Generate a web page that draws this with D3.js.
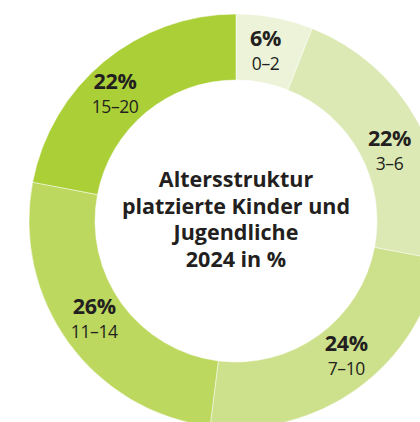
<!DOCTYPE html>
<html>
<head>
<meta charset="utf-8">
<script src="https://cdn.jsdelivr.net/npm/d3@7"></script>
<style>
  html, body { margin: 0; padding: 0; background: #ffffff; }
  svg { display: block; }
  text { font-family: "Open Sans", "Noto Sans", sans-serif; fill: #231f20; }
</style>
</head>
<body>
<svg id="chart" width="420" height="422"></svg>
<script>
// ---- data ----
const ageGroups = ["0–2", "3–6", "7–10", "11–14", "15–20"];
const shares = [6, 22, 24, 26, 22];
const sliceColors = ["#ecf3d8", "#dde9b5", "#cde08b", "#bcd85e", "#abcf37"];
const titleLines = ["Altersstruktur", "platzierte Kinder und", "Jugendliche", "2024 in %"];

// ---- layout ----
const cx = 236, cy = 221;
const outerR = 207, innerR = 141, labelR = 174;
const labelNudge = [[-3, 0], [1, 13], [8, -6], [-1, -5], [-10, 7]];

const svg = d3.select("#chart");
const g = svg.append("g").attr("transform", `translate(${cx},${cy})`);

const data = ageGroups.map((a, i) => ({ age: a, value: shares[i], color: sliceColors[i], i }));
const pie = d3.pie().value(d => d.value).sort(null).startAngle(0).endAngle(2 * Math.PI);
const arcs = pie(data);
const arc = d3.arc().innerRadius(innerR).outerRadius(outerR);
const labelArc = d3.arc().innerRadius(labelR).outerRadius(labelR);

g.selectAll("path.slice").data(arcs).join("path")
  .attr("class", "slice")
  .attr("d", arc)
  .attr("fill", d => d.data.color)
  .attr("stroke", "rgba(255,255,255,0.6)")
  .attr("stroke-width", 0.8);

const lab = g.selectAll("g.lab").data(arcs).join("g")
  .attr("class", "lab")
  .attr("transform", d => {
    const [x, y] = labelArc.centroid(d);
    const n = labelNudge[d.data.i];
    return `translate(${x + n[0]},${y + n[1]})`;
  });
lab.append("text")
  .attr("text-anchor", "middle")
  .attr("y", -4.5)
  .attr("font-size", 21.5)
  .attr("font-weight", 700)
  .attr("letter-spacing", -0.3)
  .text(d => d.data.value + "%");
lab.append("text")
  .attr("text-anchor", "middle")
  .attr("y", 19.5)
  .attr("font-size", 17.5)
  .attr("font-weight", 400)
  .attr("letter-spacing", -0.4)
  .text(d => d.data.age);

const title = g.append("text")
  .attr("text-anchor", "middle")
  .attr("font-size", 21.5)
  .attr("font-weight", 700);
titleLines.forEach((t, i) => {
  title.append("tspan").attr("x", 0).attr("y", -34 + i * 26.7).text(t);
});
</script>
</body>
</html>
